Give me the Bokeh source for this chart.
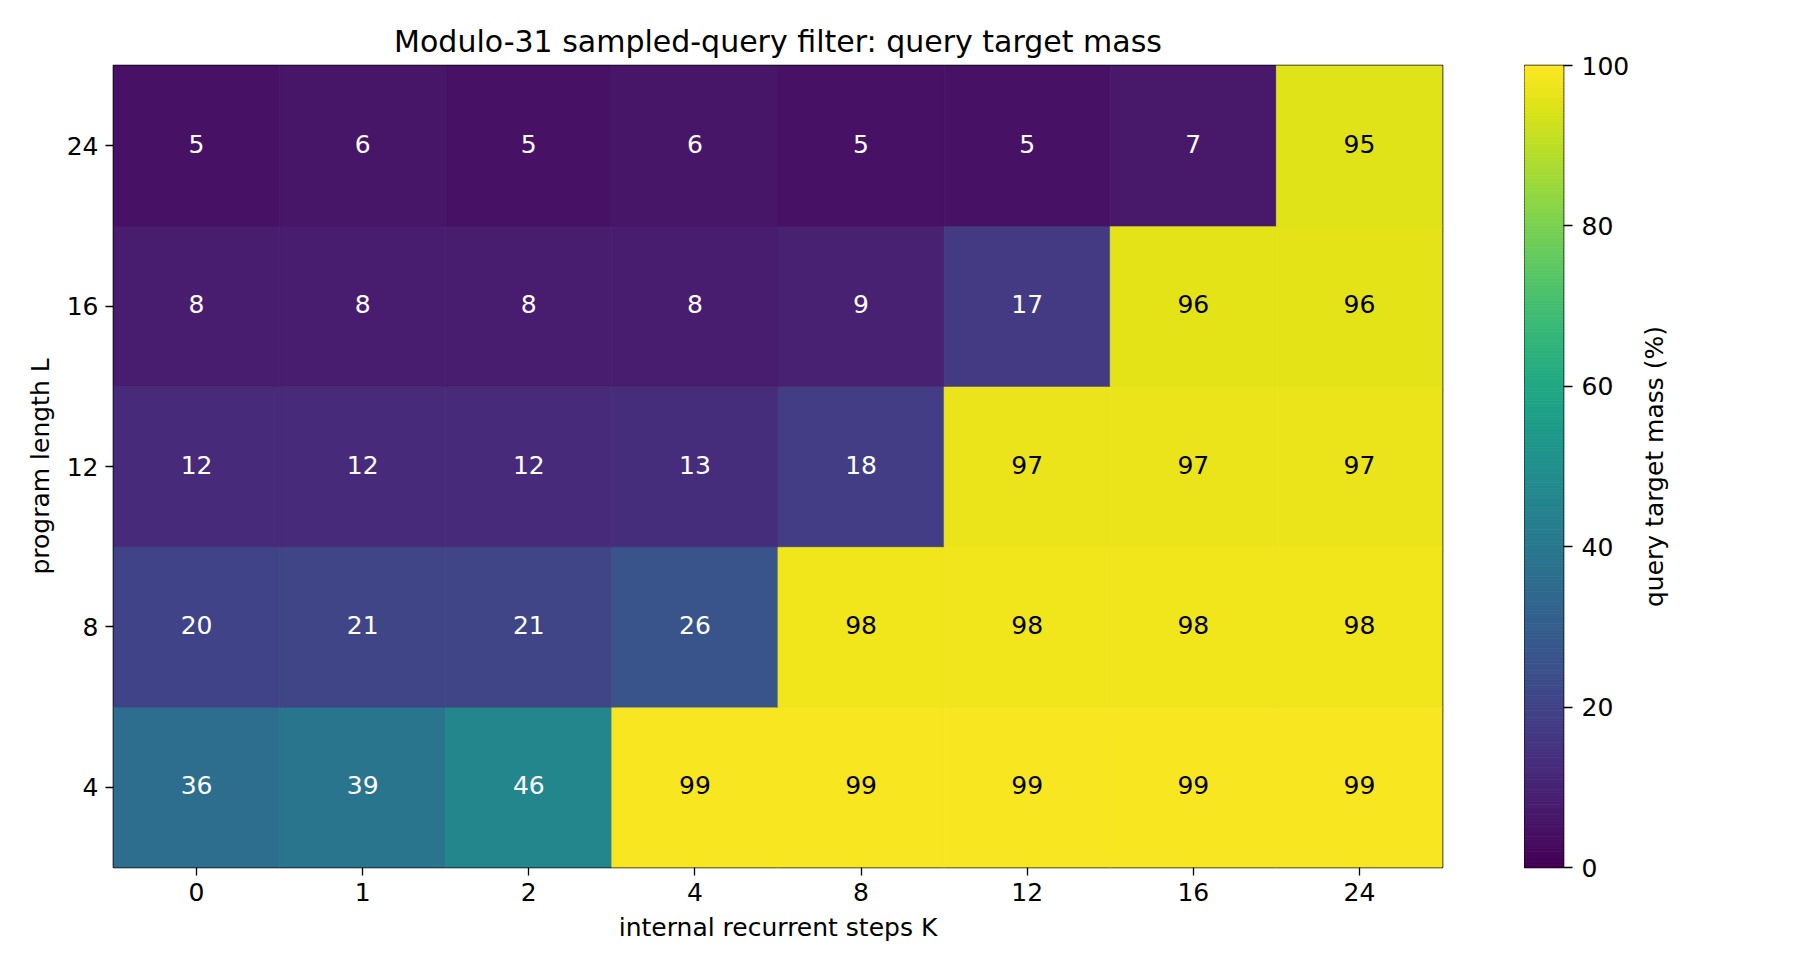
import numpy as np
from bokeh.plotting import figure
from bokeh.models import ColumnDataSource, LinearColorMapper, FactorRange, Range1d, FixedTicker
from bokeh.palettes import Viridis256
from bokeh.layouts import row
from bokeh.core.properties import value
from bokeh.embed import file_html
from bokeh.resources import INLINE

# query target mass (%) per program length L, over internal steps K
steps_k = ["0", "1", "2", "4", "8", "12", "16", "24"]
lengths_l = ["4", "8", "12", "16", "24"]
mass_l4 = [36, 39, 46, 99, 99, 99, 99, 99]
mass_l8 = [20, 21, 21, 26, 98, 98, 98, 98]
mass_l12 = [12, 12, 12, 13, 18, 97, 97, 97]
mass_l16 = [8, 8, 8, 8, 9, 17, 96, 96]
mass_l24 = [5, 6, 5, 6, 5, 5, 7, 95]
cbar_ticks = [0, 20, 40, 60, 80, 100]

FONT = "DejaVu Sans"
TICK_PX = "25px"

rows = [mass_l4, mass_l8, mass_l12, mass_l16, mass_l24]
xs, ys, vs = [], [], []
for length, vals in zip(lengths_l, rows):
    for k, v in zip(steps_k, vals):
        xs.append(k)
        ys.append(length)
        vs.append(v)
src = ColumnDataSource(dict(
    k=xs, l=ys, v=vs,
    lab=[str(v) for v in vs],
    tc=["white" if v < 50 else "black" for v in vs],
))

mapper = LinearColorMapper(palette=Viridis256, low=0, high=100)
cmap = {"field": "v", "transform": mapper}

p = figure(x_range=FactorRange(*steps_k), y_range=FactorRange(*lengths_l),
           frame_width=1329, frame_height=802,
           min_border_left=113, min_border_right=82, min_border_top=65, min_border_bottom=90,
           toolbar_location=None, output_backend="svg",
           title="Modulo-31 sampled-query filter: query target mass")
p.rect(x="k", y="l", width=1, height=1, source=src,
       fill_color=cmap, line_color=cmap, line_width=0.8)
p.text(x="k", y="l", text="lab", text_color="tc", source=src,
       text_align="center", text_baseline="middle", y_offset=-2,
       text_font=value(FONT), text_font_size=TICK_PX)

p.title.align = "center"
p.title.text_font = FONT
p.title.text_font_size = "30px"
p.title.text_font_style = "normal"
p.title.text_color = "black"
p.title.standoff = 13
p.grid.visible = False
p.outline_line_color = "black"
p.outline_line_width = 1.6
p.x_range.range_padding = 0
p.y_range.range_padding = 0
p.xaxis.axis_label = "internal recurrent steps K"
p.yaxis.axis_label = "program length L"
for ax in (p.xaxis, p.yaxis):
    ax.axis_line_color = None
    ax.major_tick_out = 8
    ax.major_tick_in = 0
    ax.major_tick_line_width = 1.3
    ax.major_tick_line_color = "black"
    ax.major_label_text_font = FONT
    ax.major_label_text_font_size = TICK_PX
    ax.major_label_text_color = "black"
    ax.major_label_standoff = 7
    ax.axis_label_text_font = FONT
    ax.axis_label_text_font_size = TICK_PX
    ax.axis_label_text_font_style = "normal"
    ax.axis_label_text_color = "black"
p.xaxis.axis_label_standoff = 9
p.yaxis.axis_label_standoff = 9

# colour bar
edges = np.linspace(0, 100, 257)
grad = ColumnDataSource(dict(b=edges[:-1], t=edges[1:], m=(edges[:-1] + edges[1:]) / 2))
gmap = {"field": "m", "transform": mapper}
cb = figure(x_range=Range1d(0, 1), y_range=Range1d(0, 100),
            frame_width=39, frame_height=802,
            min_border_left=0, min_border_right=72, min_border_top=65, min_border_bottom=90,
            x_axis_location=None, y_axis_location="right",
            toolbar_location=None, output_backend="svg")
cb.quad(left=0, right=1, bottom="b", top="t", source=grad,
        fill_color=gmap, line_color=gmap, line_width=0.8)
cb.grid.visible = False
cb.outline_line_color = "black"
cb.outline_line_width = 1.6
cb.yaxis.ticker = FixedTicker(ticks=cbar_ticks)
cb.yaxis.axis_line_color = None
cb.yaxis.major_tick_out = 9
cb.yaxis.major_tick_in = 0
cb.yaxis.minor_tick_line_color = None
cb.yaxis.major_tick_line_width = 1.3
cb.yaxis.major_tick_line_color = "black"
cb.yaxis.major_label_text_font = FONT
cb.yaxis.major_label_text_font_size = TICK_PX
cb.yaxis.major_label_text_color = "black"
cb.yaxis.major_label_standoff = 9

# colour bar label, reading bottom to top
lb = figure(x_range=Range1d(0, 70), y_range=Range1d(0, 1),
            frame_width=70, frame_height=802,
            min_border_left=0, min_border_right=0, min_border_top=65, min_border_bottom=90,
            x_axis_location=None, y_axis_location=None,
            toolbar_location=None, output_backend="svg")
lb.grid.visible = False
lb.outline_line_color = None
lb.text(x=[19], y=[0.5], text=["query target mass (%)"], angle=np.pi / 2,
        text_align="center", text_baseline="middle", text_color="black",
        text_font=value(FONT), text_font_size=TICK_PX)

layout = row(p, cb, lb)
open("out.html", "w").write(file_html(layout, INLINE))
